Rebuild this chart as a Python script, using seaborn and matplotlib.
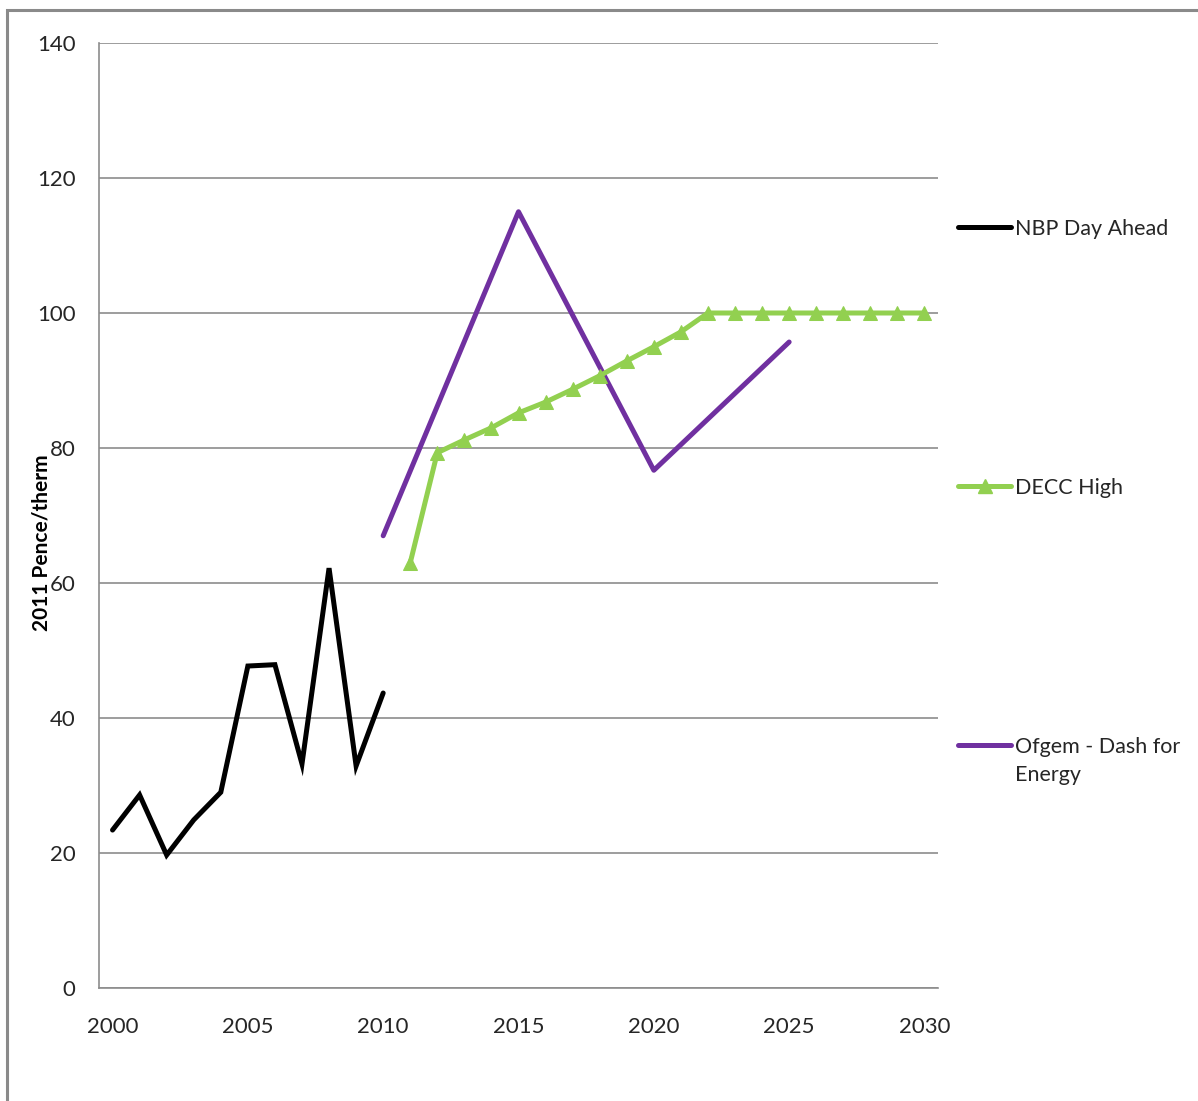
import numpy as np
import pandas as pd
import matplotlib
matplotlib.use("Agg")
import matplotlib.pyplot as plt
from matplotlib.lines import Line2D
from matplotlib.patches import Rectangle
import seaborn as sns

# ---- data -------------------------------------------------------------
years = list(range(2000, 2031))

nbp_years = [2000, 2001, 2002, 2003, 2004, 2005, 2006, 2007, 2008, 2009, 2010]
nbp_values = [23.4, 28.6, 19.7, 24.9, 29.0, 47.7, 47.9, 33.2, 62.2, 32.9, 43.7]

decc_years = list(range(2011, 2031))
decc_values = [63.0, 79.3, 81.2, 83.0, 85.2, 86.8, 88.7, 90.7, 92.9, 95.0,
               97.2, 100, 100, 100, 100, 100, 100, 100, 100, 100]

ofgem_years = [2010, 2015, 2020, 2025]
ofgem_values = [67.0, 115.0, 76.7, 95.7]

series_names = ["NBP Day Ahead", "DECC High", "Ofgem - Dash for\nEnergy"]
y_label = "2011 Pence/therm"
y_ticks = [0, 20, 40, 60, 80, 100, 120, 140]
x_tick_labels = ["2000", "2005", "2010", "2015", "2020", "2025", "2030"]

# ---- style -------------------------------------------------------------
sns.set_theme(style="white")
plt.rcParams["font.family"] = ["Lato", "DejaVu Sans"]

BLACK = "#000000"
GREEN = "#92D050"
PURPLE = "#7030A0"
GRID = "#8C8C8C"
TEXT = "#262626"
FS = 15.5

W, H = 1198, 1101
fig = plt.figure(figsize=(W / 100, H / 100), dpi=100)
fig.patch.set_facecolor("white")

# outer chart frame
fig.add_artist(Rectangle((7 / W, -0.05), 1.2, (H - 10) / H + 0.05,
                         transform=fig.transFigure, fill=False,
                         edgecolor="#8A8A8A", linewidth=2.2))

left, right, top, bottom = 99, 938, 43, 988
ax = fig.add_axes([left / W, (H - bottom) / H, (right - left) / W, (bottom - top) / H])


def to_idx(yrs):
    return [y - years[0] for y in yrs]


nbp = pd.DataFrame({"x": to_idx(nbp_years), "v": nbp_values})
decc = pd.DataFrame({"x": to_idx(decc_years), "v": decc_values})
ofgem = pd.DataFrame({"x": to_idx(ofgem_years), "v": ofgem_values})

sns.lineplot(data=nbp, x="x", y="v", ax=ax, color=BLACK, linewidth=3.6,
             solid_joinstyle="miter", zorder=3)
sns.lineplot(data=ofgem, x="x", y="v", ax=ax, color=PURPLE, linewidth=3.6,
             zorder=3)
sns.lineplot(data=decc, x="x", y="v", ax=ax, color=GREEN, linewidth=3.6,
             marker="^", markersize=10, markeredgecolor=GREEN,
             markerfacecolor=GREEN, zorder=4)

ax.set_xlim(-0.5, len(years) - 0.5)
ax.set_ylim(0, 140)

# y axis
ax.set_yticks(y_ticks)
ax.set_yticklabels([str(t) for t in y_ticks], fontsize=FS + 0.5, color=TEXT)
ax.yaxis.grid(True, color=GRID, linewidth=1.2)
ax.xaxis.grid(False)
ax.tick_params(axis="y", which="major", direction="out", length=8, width=1.2,
               color=GRID, pad=9)

# x axis: tick marks at category boundaries, labels every 5 years
ax.set_xticks(np.arange(-0.5, len(years), 1.0))
ax.set_xticklabels([])
ax.set_xticks([years.index(int(t)) for t in x_tick_labels], minor=True)
ax.set_xticklabels(x_tick_labels, minor=True, fontsize=FS + 0.5, color=TEXT)
ax.tick_params(axis="x", which="major", direction="out", length=8, width=1.2,
               color=GRID)
ax.tick_params(axis="x", which="minor", length=0, pad=21)

for side in ["top", "right"]:
    ax.spines[side].set_visible(False)
for side in ["left", "bottom"]:
    ax.spines[side].set_color(GRID)
    ax.spines[side].set_linewidth(1.2)

ax.set_xlabel("")
ax.set_ylabel("")
fig.text(42 / W, 1 - 543 / H, y_label, rotation=90, fontsize=FS - 0.5,
         fontweight="bold", color=BLACK, ha="center", va="center")

# legend on the right
legend_rows = [(227, BLACK, None), (486, GREEN, "^"), (745, PURPLE, None)]
for (yp, col, mk), name in zip(legend_rows, series_names):
    yf = 1 - yp / H
    fig.add_artist(Line2D([958 / W, 1011 / W], [yf, yf], transform=fig.transFigure,
                          color=col, linewidth=3.6))
    if mk:
        fig.add_artist(Line2D([985 / W], [yf], transform=fig.transFigure,
                              marker=mk, markersize=10, color=col, linestyle="none"))
    lines = name.split("\n")
    for i, part in enumerate(lines):
        fig.text(1015 / W, 1 - (yp + 28 * i) / H, part, fontsize=FS, color=TEXT,
                 ha="left", va="center_baseline")

fig.savefig("out.png", dpi=100, facecolor="white")
